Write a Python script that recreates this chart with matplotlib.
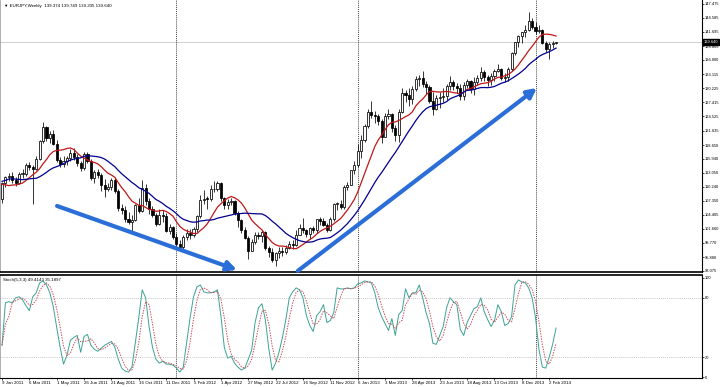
import numpy as np
import pandas as pd
import matplotlib
matplotlib.use("Agg")
import matplotlib.pyplot as plt
import matplotlib.transforms as mtransforms

plt.rcParams['font.family'] = ['Liberation Sans', 'DejaVu Sans']

# EURJPY weekly bars, first bar = week of 9 Jan 2011
first_open = 107.8
closes = [
    110.9, 112.1, 112.4, 111.6, 111.0, 112.8, 112.9, 114.7, 114.3, 113.8,
    115.9, 119.5, 122.3, 120.2, 121.0, 119.0, 115.6, 114.8, 115.5, 116.1,
    117.1, 116.3, 115.1, 114.0, 116.8, 115.4, 112.0, 113.3, 112.5, 110.6,
    109.8, 110.1, 111.5, 109.3, 105.8, 105.5, 103.7, 103.1, 103.5, 106.4,
    105.3, 109.9, 107.4, 105.6, 104.5, 102.7, 104.5, 104.3, 101.3, 102.1,
    100.0,
    98.6, 97.9, 99.9, 100.9, 100.4, 101.6, 104.2, 107.5, 107.8, 107.7,
    109.7, 109.8, 110.9, 107.9, 106.5, 107.1, 107.4, 104.9, 103.4, 101.4,
    99.8, 97.1, 98.9, 100.4, 100.1, 101.1, 97.7, 97.0, 95.3, 96.7,
    97.2, 97.0, 97.8, 98.5, 98.4, 100.4, 101.8, 101.5, 100.5, 101.8,
    101.5, 103.6, 103.3, 102.5, 101.5, 103.6, 106.8, 106.8, 106.0, 110.2,
    110.6, 113.6, 114.6,
    117.5, 119.8, 122.5, 125.5, 124.8, 124.6, 123.6, 120.4, 124.6, 125.0,
    122.2, 120.7, 125.4, 129.3, 128.9, 128.0, 130.1, 132.2, 132.4, 131.2,
    130.5, 127.6, 126.0, 128.2, 128.5, 128.7, 130.6, 131.5, 130.7, 130.3,
    128.7, 131.0, 131.8, 130.1, 131.6, 132.4, 133.5, 132.5, 131.9, 132.8,
    133.7, 134.2, 132.4, 132.6, 134.2, 137.5, 139.6, 140.9, 141.6, 142.0,
    143.9, 142.8,
    141.9, 142.0, 139.5, 138.2, 139.3, 139.4, 139.64]
highs = [
    111.1, 112.4, 113.0, 113.3, 112.2, 113.3, 113.9, 115.0, 115.2, 114.6,
    116.4, 119.8, 123.3, 122.6, 121.5, 121.8, 119.8, 116.3, 116.4, 116.5,
    117.8, 118.0, 116.8, 115.4, 117.3, 117.2, 115.8, 113.7, 113.8, 113.0,
    111.7, 111.0, 112.0, 112.0, 109.8, 106.7, 106.2, 105.1, 104.5, 106.8,
    107.9, 111.6, 110.8, 107.9, 106.3, 104.8, 105.6, 105.4, 104.8, 102.6,
    102.2,
    100.9, 99.4, 100.4, 101.6, 101.7, 102.0, 104.4, 108.5, 109.5, 108.4,
    110.6, 111.4, 111.4, 111.2, 108.2, 107.8, 108.0, 107.6, 105.2, 103.6,
    102.0, 100.2, 99.6, 101.0, 101.1, 101.5, 101.3, 98.1, 97.7, 97.0,
    97.9, 97.9, 98.3, 99.1, 99.3, 101.4, 102.7, 103.9, 101.6, 102.0,
    102.3, 103.7, 104.0, 103.8, 102.8, 104.0, 107.0, 107.1, 107.6, 110.6,
    111.2, 113.7, 115.4,
    118.9, 120.7, 122.9, 126.1, 127.7, 125.7, 125.0, 123.9, 125.3, 126.1,
    125.2, 122.7, 126.1, 130.3, 129.9, 130.2, 130.7, 132.7, 132.9, 133.8,
    131.8, 130.9, 129.4, 128.9, 129.5, 130.2, 131.1, 132.7, 132.0, 131.4,
    131.1, 131.5, 132.2, 132.0, 132.6, 132.9, 134.6, 134.0, 132.9, 133.4,
    134.2, 135.2, 134.4, 133.4, 134.6, 137.7, 139.7, 141.1, 141.6, 143.1,
    145.7, 144.6,
    143.8, 143.2, 142.3, 139.9, 139.7, 139.9, 139.749]
lows = [
    106.9, 110.2, 111.4, 110.9, 110.3, 110.8, 112.0, 112.4, 113.6, 106.6,
    113.6, 115.6, 119.2, 119.6, 119.2, 118.6, 115.2, 114.2, 114.3, 114.7,
    115.5, 115.7, 114.4, 113.5, 113.6, 115.1, 111.6, 111.0, 111.9, 109.3,
    108.1, 109.3, 109.6, 108.9, 105.3, 104.6, 103.1, 102.6, 100.8, 103.3,
    104.9, 105.0, 106.5, 104.6, 104.0, 102.2, 102.5, 103.1, 101.0, 100.5,
    99.6,
    98.1, 97.5, 97.0, 99.3, 99.6, 99.9, 101.0, 103.9, 106.7, 105.6,
    107.3, 109.2, 109.3, 107.3, 105.6, 105.6, 106.4, 104.4, 102.0, 100.8,
    99.6, 95.6, 97.5, 98.6, 99.5, 98.9, 97.4, 95.9, 94.9, 94.1,
    95.8, 96.2, 96.5, 97.6, 97.5, 98.2, 100.6, 100.9, 99.9, 99.6,
    100.8, 100.9, 102.5, 102.2, 101.0, 101.3, 103.3, 105.5, 105.7, 105.7,
    109.5, 110.5, 112.9,
    114.3, 116.1, 119.3, 122.2, 124.1, 123.1, 122.8, 119.1, 120.8, 123.9,
    121.4, 119.6, 119.3, 125.2, 127.4, 126.7, 127.0, 129.6, 130.7, 130.4,
    129.0, 127.2, 124.9, 125.8, 126.2, 127.4, 127.9, 129.9, 129.9, 129.2,
    127.9, 127.8, 130.2, 129.3, 128.9, 131.0, 131.7, 131.8, 130.8, 130.9,
    131.8, 133.5, 132.0, 131.6, 131.8, 133.7, 137.0, 138.7, 139.5, 140.7,
    141.8, 142.3,
    141.3, 141.5, 139.3, 137.7, 136.2, 138.5, 139.205]

# closes of the weeks before the chart, used to start the moving averages
prior_closes = [108.4, 107.0, 110.6, 112.3, 114.2, 113.7, 113.0, 112.9, 112.0, 115.4,
                113.0, 113.9, 110.5, 110.6, 111.3, 110.7, 109.5, 108.6, 107.8]

# Stochastic %K (5,3,3)
stoch_k = [
    32, 75, 76, 75, 80, 81, 78, 72, 67, 81,
    85, 95, 97, 93, 85, 71, 50, 30, 13, 22,
    37, 40, 42, 25, 41, 43, 32, 28, 26, 29,
    32, 34, 36, 30, 18, 9, 6, 5, 10, 35,
    60, 88, 80, 51, 30, 18, 14, 16, 13, 13,
    12, 9, 5, 10, 35, 60, 81, 91, 93, 86,
    85, 85, 86, 88, 62, 30, 19, 21, 14, 10,
    7, 9, 18, 27, 55, 70, 74, 58, 29, 7,
    14, 25, 40, 58, 80, 86, 90, 88, 80, 62,
    52, 46, 62, 66, 73, 55, 57, 65, 90, 89,
    89, 90, 89, 90, 94, 95, 97, 96, 95, 85,
    70, 61, 54, 47, 59, 42, 63, 67, 89, 80,
    85, 85, 93, 80, 65, 54, 34, 33, 42, 51,
    70, 80, 76, 73, 48, 42, 55, 62, 69, 71,
    80, 66, 58, 51, 57, 73, 66, 52, 54, 61,
    93, 98, 96, 95, 90, 80, 60, 28, 10, 9,
    20, 33, 49.41]

date_ticks = [0, 8, 16, 24, 32, 40, 48, 56, 64, 72, 80, 88, 96, 104,
              112, 120, 128, 136, 144, 152, 160]
date_labels = ['9 Jan 2011', '6 Mar 2011', '1 May 2011', '26 Jun 2011', '21 Aug 2011',
               '16 Oct 2011', '11 Dec 2011', '5 Feb 2012', '1 Apr 2012', '27 May 2012',
               '22 Jul 2012', '16 Sep 2012', '11 Nov 2012', '6 Jan 2013', '3 Mar 2013',
               '28 Apr 2013', '23 Jun 2013', '18 Aug 2013', '13 Oct 2013', '8 Dec 2013',
               '2 Feb 2014']
year_starts = [51, 104, 156]
price_labels = ['147.475', '144.585', '141.695', '138.805', '136.000', '133.115', '130.225',
                '127.415', '124.525', '121.635', '118.650', '115.940', '113.050', '110.240',
                '107.350', '104.465', '101.660', '98.770', '95.880', '93.075']
last_price = 139.640

# trend arrows drawn on the chart (bar index, price)
arrow_down = [(16.1, 106.3), (68.7, 93.3)]
arrow_up = [(86.5, 93.1), (156.4, 130.3)]

closes = np.array(closes)
opens = np.r_[first_open, closes[:-1]]
highs = np.maximum(np.array(highs), np.maximum(opens, closes))
lows = np.minimum(np.array(lows), np.minimum(opens, closes))
idx = np.arange(len(closes))

full = pd.Series(np.r_[prior_closes, closes])
n0 = len(prior_closes)
ma_fast = full.rolling(10).mean().values[n0:]
ma_slow = full.rolling(20, min_periods=1).mean().values[n0:]
k = pd.Series(stoch_k)
d = k.rolling(3, min_periods=1).mean()

fig = plt.figure(figsize=(7.2, 3.87), dpi=100)
ax = fig.add_axes([0, 115 / 387, 702 / 720, 272 / 387])
ax2 = fig.add_axes([0, 9 / 387, 702 / 720, 103 / 387])

xlim = (-0.585, 204.68)

# candles
up = closes >= opens
ax.vlines(idx, lows, highs, color='black', lw=0.55, zorder=2)
body_lo = np.minimum(opens, closes)
body_h = np.maximum(np.abs(closes - opens), 0.12)
ax.bar(idx[up], body_h[up], bottom=body_lo[up], width=0.62, color='white',
       edgecolor='black', lw=0.55, zorder=3)
ax.bar(idx[~up], body_h[~up], bottom=body_lo[~up], width=0.62, color='black',
       edgecolor='black', lw=0.55, zorder=3)

ax.plot(idx, ma_fast, color='#c01818', lw=0.9, zorder=4)
ax.plot(idx, ma_slow, color='#000090', lw=0.9, zorder=4)

ax.axhline(last_price, color='#c8c8c8', lw=0.6, zorder=1)
for ys in year_starts:
    ax.axvline(ys, color='black', ls=(0, (1.5, 1.5)), lw=0.5, zorder=1)
    ax2.axvline(ys, color='black', ls=(0, (1.5, 1.5)), lw=0.5, zorder=1)

for (x0, y0), (x1, y1) in [arrow_down, arrow_up]:
    ax.annotate('', xy=(x1, y1), xytext=(x0, y0), annotation_clip=False,
                arrowprops=dict(arrowstyle='-|>,head_length=0.55,head_width=0.28',
                                color='#2b6ed8', lw=3.0, shrinkA=0, shrinkB=0),
                zorder=5)

ax.set_xlim(*xlim)
ax.set_ylim(92.87, 148.19)
ax.set_xticks([])
ax.yaxis.tick_right()
ax.set_yticks([float(v) for v in price_labels])
ax.set_yticklabels(price_labels)
ax.tick_params(axis='y', labelsize=2.9, length=1.5, width=0.5, pad=0.8)
ax.spines['top'].set_visible(False)
ax.spines['right'].set_linewidth(0.8)
ax.spines['bottom'].set_linewidth(1.2)
ax.spines['left'].set_color('#909090')
ax.spines['left'].set_linewidth(0.5)

trans = mtransforms.blended_transform_factory(ax.transAxes, ax.transData)
ax.text(1.003, last_price, f'{last_price:.3f}', transform=trans, fontsize=2.9,
        color='white', ha='left', va='center', zorder=6,
        bbox=dict(boxstyle='square,pad=0.2', fc='black', ec='black'))

fig.text(4 / 720, 1 - 6 / 387, '\u25bc EURJPY,Weekly  139.374 139.749 139.205 139.640',
         fontsize=3.2, va='center', ha='left')

# stochastic panel
ax2.plot(idx, k, color='#3aa395', lw=0.7)
ax2.plot(idx, d, color='#c8505a', ls=(0, (1.5, 1.2)), lw=0.7)
for lvl in [80, 20]:
    ax2.axhline(lvl, color='#b4b4b4', ls=(0, (1.5, 1.5)), lw=0.5)
ax2.set_xlim(*xlim)
ax2.set_ylim(-1, 103)
ax2.yaxis.tick_right()
ax2.set_yticks([0, 20, 80, 100])
ax2.set_yticklabels(['0', '20', '80', '100'])
ax2.tick_params(axis='y', labelsize=2.9, length=1.5, width=0.5, pad=0.8)
ax2.set_xticks(date_ticks)
ax2.set_xticklabels(date_labels, ha='left')
ax2.tick_params(axis='x', labelsize=3.2, length=1.5, width=0.5, pad=0.8)
ax2.spines['top'].set_linewidth(1.2)
ax2.spines['right'].set_linewidth(0.8)
ax2.spines['bottom'].set_linewidth(0.8)
ax2.spines['left'].set_color('#909090')
ax2.spines['left'].set_linewidth(0.5)
ax2.text(0.004, 0.975, 'Stoch(5,3,3) 49.4143 35.1897', transform=ax2.transAxes,
         fontsize=3.2, va='top', ha='left')

fig.savefig('out.png', dpi=100)
